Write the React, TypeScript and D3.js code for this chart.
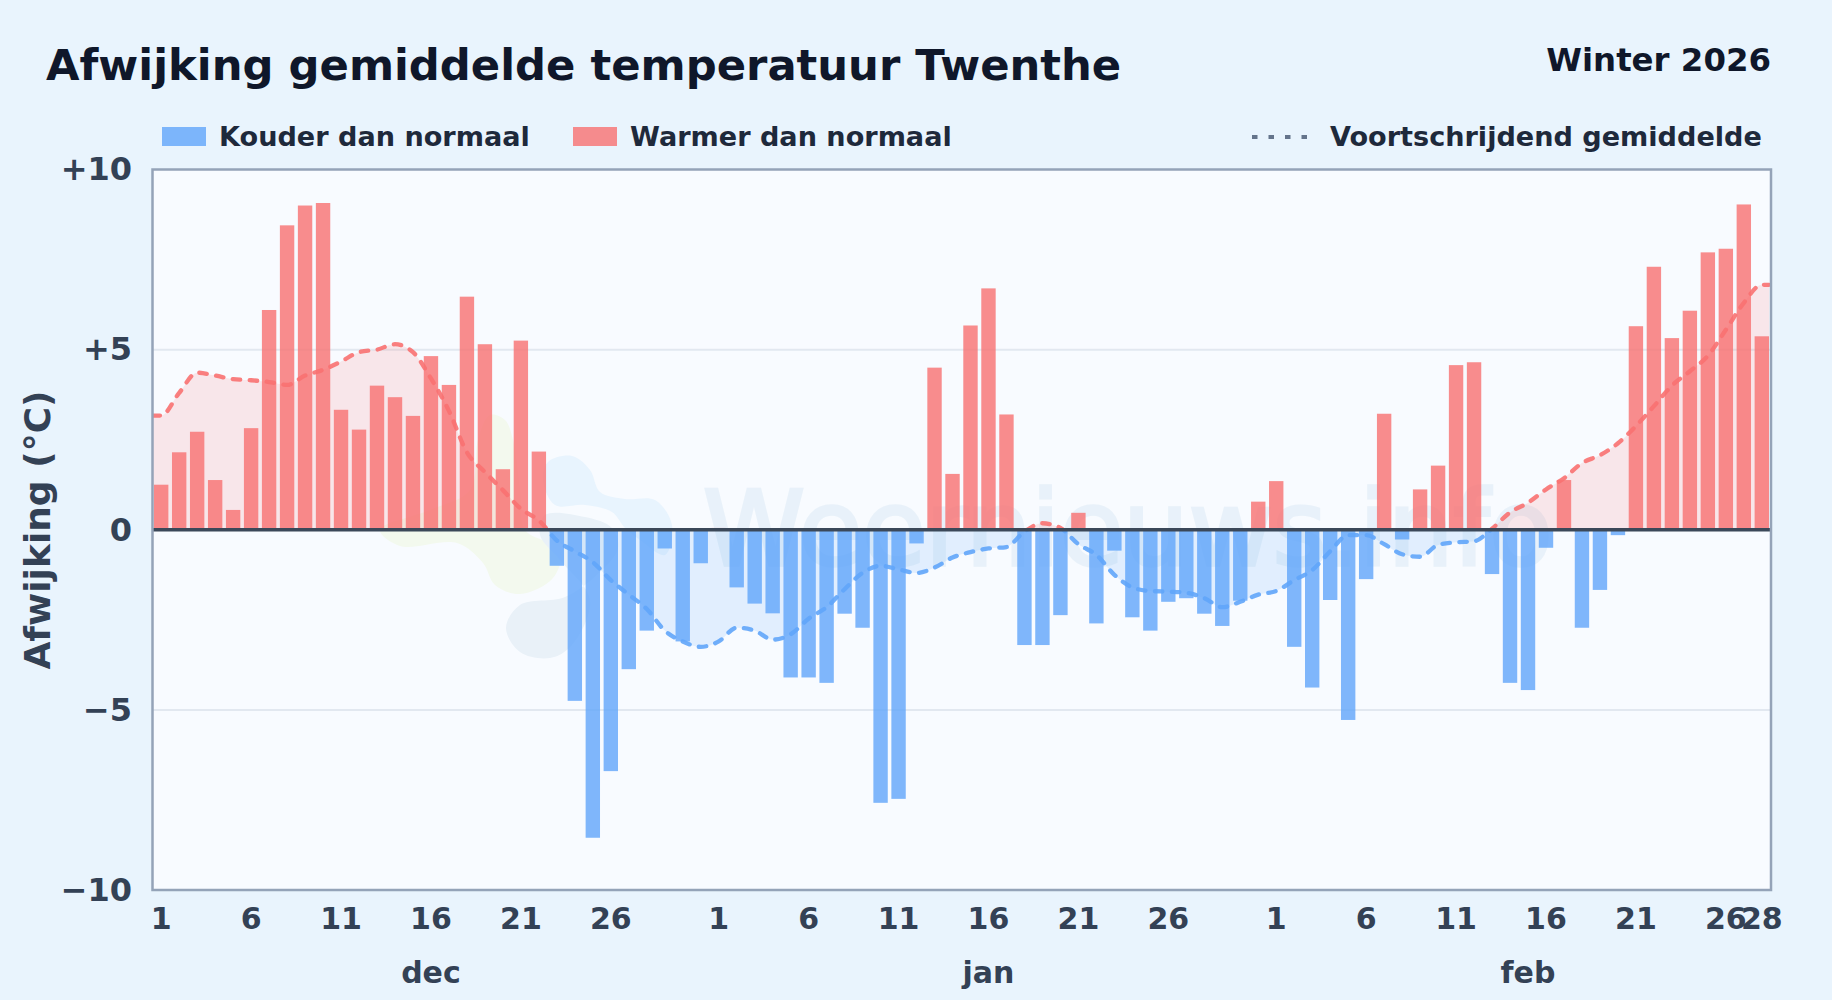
import React, { useEffect, useRef } from 'react';
import * as d3 from 'd3';

const width = 1832;
const height = 1000;

// afwijking per dag (graden)
const decValues = [1.25, 2.15, 2.72, 1.38, 0.55, 2.82, 6.1, 8.45, 9.0, 9.07, 3.33, 2.78, 4.0, 3.68, 3.16, 4.82, 4.02, 6.47, 5.15, 1.68, 5.25, 2.17, -1.0, -4.75, -8.55, -6.7, -3.87, -2.8, -0.52, -3.1, -0.93];
const janValues = [0.05, -1.6, -2.05, -2.32, -4.1, -4.1, -4.25, -2.33, -2.72, -7.58, -7.47, -0.38, 4.5, 1.55, 5.67, 6.7, 3.2, -3.2, -3.2, -2.37, 0.47, -2.6, -0.58, -2.43, -2.8, -2.0, -1.9, -2.33, -2.67, -1.97, 0.78];
const febValues = [1.35, -3.25, -4.38, -1.95, -5.28, -1.37, 3.22, -0.27, 1.12, 1.78, 4.57, 4.65, -1.23, -4.25, -4.45, -0.5, 1.38, -2.72, -1.67, -0.15, 5.65, 7.3, 5.32, 6.08, 7.7, 7.8, 9.03, 5.37];

// voortschrijdend gemiddelde
const decAvg = [3.17, 3.8, 4.36, 4.28, 4.18, 4.15, 4.1, 4.02, 4.28, 4.44, 4.67, 4.93, 5.0, 5.15, 4.93, 4.2, 3.3, 2.15, 1.6, 1.1, 0.58, 0.26, -0.3, -0.6, -0.9, -1.4, -1.8, -2.2, -2.8, -3.1, -3.25];
const janAvg = [-3.1, -2.72, -2.8, -3.05, -2.9, -2.47, -2.15, -1.65, -1.2, -1.0, -1.1, -1.2, -1.05, -0.77, -0.62, -0.52, -0.48, -0.05, 0.18, 0.05, -0.4, -0.7, -1.25, -1.6, -1.7, -1.72, -1.75, -1.9, -2.15, -2.0, -1.8];
const febAvg = [-1.7, -1.4, -1.12, -0.6, -0.15, -0.15, -0.4, -0.68, -0.75, -0.42, -0.35, -0.32, 0.03, 0.48, 0.75, 1.12, 1.43, 1.85, 2.07, 2.4, 2.88, 3.43, 4.0, 4.4, 4.83, 5.55, 6.3, 6.8];

const months = ['dec', 'jan', 'feb'];
const yTicks = [10, 5, 0, -5, -10];
const dayTicks = [1, 6, 11, 16, 21, 26];

const values = [...decValues, ...janValues, ...febValues];
const rolling = [...decAvg, ...janAvg, ...febAvg];
const monthLengths = [decValues.length, janValues.length, febValues.length];

const margin = { left: 152.5, right: 61, top: 169.5, bottom: 110 };
const COLD = '#60a5fa';
const WARM = '#f87171';

// logo in het watermerk
const logoGreen: [number, number][] = [[380, 530], [400, 546], [457, 543], [483, 563], [495, 585], [520, 594], [553, 578], [560, 550], [525, 530], [520, 490], [513, 440], [505, 420], [490, 415], [478, 440], [470, 490], [430, 510]];
const logoBlue: [number, number][] = [[543, 480], [548, 462], [572, 456], [590, 470], [600, 492], [625, 499], [655, 500], [672, 525], [665, 555], [640, 540], [625, 528], [612, 512], [585, 505], [555, 505]];
const logoGrey: [number, number][] = [[545, 515], [585, 517], [612, 528], [618, 548], [600, 572], [565, 597], [520, 605], [506, 628], [520, 652], [550, 658], [572, 645], [590, 600], [560, 560], [540, 535]];

export default function App() {
  const svgRef = useRef<SVGSVGElement>(null);

  useEffect(() => {
    if (!svgRef.current) return;
    const svg = d3.select(svgRef.current);
    svg.selectAll('*').remove();

    const x0 = margin.left;
    const x1 = width - margin.right;
    const y0 = margin.top;
    const y1 = height - margin.bottom;

    const x = d3.scaleBand<number>().domain(d3.range(values.length)).range([x0 + 1.5, x1 - 2]).paddingInner(0.2).paddingOuter(0);
    const y = d3.scaleLinear().domain([-10, 10]).range([y1, y0]);
    const cx = (i: number) => x(i)! + x.bandwidth() / 2;

    svg.append('rect').attr('width', width).attr('height', height).attr('fill', '#e9f4fd');
    svg.append('rect').attr('x', x0).attr('y', y0).attr('width', x1 - x0).attr('height', y1 - y0).attr('fill', '#f8fbff');

    const defs = svg.append('defs');
    defs.append('clipPath').attr('id', 'above').append('rect')
      .attr('x', x0).attr('y', y0).attr('width', x1 - x0).attr('height', y(0) - y0);
    defs.append('clipPath').attr('id', 'below').append('rect')
      .attr('x', x0).attr('y', y(0)).attr('width', x1 - x0).attr('height', y1 - y(0));

    // watermerk
    const blob = d3.line().curve(d3.curveCatmullRomClosed);
    const wm = svg.append('g');
    wm.append('path').attr('fill', '#f3f9ee').attr('d', blob(logoGreen));
    wm.append('path').attr('fill', '#e8f4fe').attr('d', blob(logoBlue));
    wm.append('path').attr('fill', '#e9f1f8').attr('d', blob(logoGrey));
    wm.append('text').attr('x', 703).attr('y', 565)
      .attr('font-family', 'DejaVu Sans').attr('font-size', 103)
      .attr('fill', '#dfecf7').attr('stroke', '#dfecf7').attr('stroke-width', 3.5)
      .attr('opacity', 0.6).text('Weernieuws.info');

    // raster
    svg.append('g').selectAll('line').data(yTicks.filter(t => t === 5 || t === -5)).enter().append('line')
      .attr('x1', x0).attr('x2', x1).attr('y1', d => y(d)).attr('y2', d => y(d))
      .attr('stroke', '#e2e8f0').attr('stroke-width', 2);

    // punten van het gemiddelde, vlak doorgetrokken tot de rand
    const pts: [number, number][] = [
      [x0, rolling[0]],
      ...rolling.map((v, i) => [cx(i), v] as [number, number]),
      [x1 - 2, rolling[rolling.length - 1]],
    ];
    const area = d3.area<[number, number]>().x(d => d[0]).y0(y(0)).y1(d => y(d[1])).curve(d3.curveMonotoneX);
    const line = d3.line<[number, number]>().x(d => d[0]).y(d => y(d[1])).curve(d3.curveMonotoneX);

    svg.append('path').attr('d', area(pts)).attr('fill', WARM).attr('opacity', 0.15).attr('clip-path', 'url(#above)');
    svg.append('path').attr('d', area(pts)).attr('fill', COLD).attr('opacity', 0.15).attr('clip-path', 'url(#below)');

    svg.append('g').selectAll('rect').data(values).enter().append('rect')
      .attr('x', (_, i) => x(i)!)
      .attr('width', x.bandwidth())
      .attr('y', d => y(Math.max(d, 0)))
      .attr('height', d => Math.abs(y(d) - y(0)))
      .attr('fill', d => (d >= 0 ? WARM : COLD))
      .attr('opacity', 0.8);

    [['above', WARM], ['below', COLD]].forEach(([id, col]) => {
      svg.append('path').attr('d', line(pts)).attr('fill', 'none').attr('stroke', col)
        .attr('stroke-width', 4.3).attr('stroke-dasharray', '7.5 9.5').attr('stroke-linecap', 'round')
        .attr('opacity', 0.9).attr('clip-path', `url(#${id})`);
    });

    svg.append('line').attr('x1', x0).attr('x2', x1).attr('y1', y(0)).attr('y2', y(0))
      .attr('stroke', '#3b4859').attr('stroke-width', 3.5);

    svg.append('rect').attr('x', x0).attr('y', y0).attr('width', x1 - x0).attr('height', y1 - y0)
      .attr('fill', 'none').attr('stroke', '#94a3b8').attr('stroke-width', 2.5);

    const font = 'DejaVu Sans';

    // y-as
    const fmtY = (d: d3.NumberValue) => {
      const v = +d;
      return v > 0 ? `+${v}` : v < 0 ? `\u2212${-v}` : '0';
    };
    const yAxis = svg.append('g').attr('transform', `translate(${x0},0)`)
      .call(d3.axisLeft(y).tickValues(yTicks).tickSize(0).tickPadding(20.5).tickFormat(fmtY));
    yAxis.select('.domain').remove();
    yAxis.selectAll('text').attr('font-family', font).attr('font-size', 32).attr('font-weight', 700).attr('fill', '#334155');

    // x-as
    let start = 0;
    const tickIdx: number[] = [];
    const tickLabel = new Map<number, string>();
    monthLengths.forEach((len, m) => {
      dayTicks.forEach(d => {
        tickIdx.push(start + d - 1);
        tickLabel.set(start + d - 1, String(d));
      });
      if (m === monthLengths.length - 1) {
        tickIdx.push(start + len - 1);
        tickLabel.set(start + len - 1, String(len));
      }
      svg.append('text').attr('x', cx(start + Math.floor(len / 2))).attr('y', 983).attr('text-anchor', 'middle')
        .attr('font-family', font).attr('font-size', 30).attr('font-weight', 700).attr('fill', '#334155')
        .text(months[m]);
      start += len;
    });
    const xAxis = svg.append('g').attr('transform', `translate(0,${y1})`)
      .call(d3.axisBottom(x).tickValues(tickIdx).tickSize(0).tickPadding(18).tickFormat(d => tickLabel.get(d as number) ?? ''));
    xAxis.select('.domain').remove();
    xAxis.selectAll('text').attr('font-family', font).attr('font-size', 30).attr('font-weight', 700).attr('fill', '#334155');

    svg.append('text').attr('transform', `translate(50,530) rotate(-90)`).attr('text-anchor', 'middle')
      .attr('font-family', font).attr('font-size', 36).attr('font-weight', 700).attr('fill', '#334155')
      .text('Afwijking (\u00b0C)');

    // koppen
    svg.append('text').attr('x', 46).attr('y', 80).attr('font-family', font).attr('font-size', 43.3).attr('font-weight', 700)
      .attr('fill', '#0f172a').text('Afwijking gemiddelde temperatuur Twenthe');
    svg.append('text').attr('x', 1771).attr('y', 71).attr('text-anchor', 'end').attr('font-family', font).attr('font-size', 32.4)
      .attr('font-weight', 700).attr('fill', '#0f172a').text('Winter 2026');

    // legenda
    const legendY = 137;
    const legendText = (lx: number, label: string) =>
      svg.append('text').attr('x', lx).attr('y', legendY).attr('dy', '0.35em').attr('font-family', font).attr('font-size', 27.1)
        .attr('font-weight', 700).attr('fill', '#1e293b').text(label);
    svg.append('rect').attr('x', 162).attr('y', 127).attr('width', 44).attr('height', 19).attr('fill', COLD).attr('opacity', 0.8);
    legendText(219, 'Kouder dan normaal');
    svg.append('rect').attr('x', 573).attr('y', 127).attr('width', 44).attr('height', 19).attr('fill', WARM).attr('opacity', 0.8);
    legendText(630, 'Warmer dan normaal');
    svg.append('line').attr('x1', 1252).attr('x2', 1308).attr('y1', legendY).attr('y2', legendY)
      .attr('stroke', '#64748b').attr('stroke-width', 4).attr('stroke-dasharray', '5.5 11');
    legendText(1330, 'Voortschrijdend gemiddelde');
  }, []);

  return (
    <svg ref={svgRef} width={width} height={height} style={{ position: 'absolute', left: 0, top: 0, display: 'block' }} />
  );
}
